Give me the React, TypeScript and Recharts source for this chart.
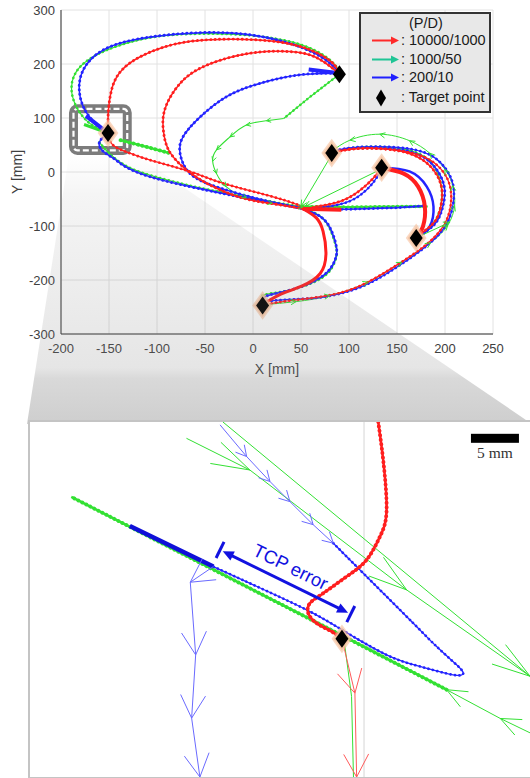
import React from 'react'
import { ComposedChart, Line, Scatter, XAxis, YAxis, CartesianGrid, ReferenceArea, ReferenceLine, Label } from 'recharts'

type Pt = { x: number; y: number }
const pts = (a: number[][]): Pt[] => a.map(([x, y]) => ({ x, y }))

// ---- top plot: TCP paths in mm ----
const xTicks = [-200, -150, -100, -50, 0, 50, 100, 150, 200, 250]
const yTicks = [-300, -200, -100, 0, 100, 200, 300]

const targets = pts([[-151, 72], [90, 181], [82, 35], [134, 8], [170, -122], [10, -247]])

// zoomed region marked on the top plot
const zoomBox = { x1: -187, x2: -131, y1: 40, y2: 117 }

// red : 10000/1000
const redTopArc = pts([[-151, 72], [-151, 100], [-150, 125], [-146, 160], [-136, 190], [-118, 213], [-95, 230], [-65, 242], [-20, 246], [30, 240], [65, 222], [84, 200], [90, 182]])
const redInnerArc = pts([[90, 182], [66, 212], [38, 223], [-3, 220], [-48, 198], [-76, 164], [-92, 115], [-93, 72], [-86, 35], [-65, -2], [-38, -30], [-7, -50], [25, -60], [52, -68]])
const redDiag = pts([[-151, 72], [-146, 50], [-130, 36], [-107, 22], [-66, 1], [-31, -21], [21, -46], [52, -64]])
const redDown = pts([[52, -68], [66, -85], [73, -110], [76, -150], [70, -188], [50, -212], [27, -228], [10, -246]])
const redLowArc = pts([[10, -246], [40, -238], [80, -228], [115, -208], [150, -172], [180, -135], [199, -98], [206, -60], [205, -25], [196, 5], [178, 28], [150, 40], [118, 44], [95, 40], [82, 35]])
const redMidArc = pts([[82, 35], [100, 42], [135, 43], [165, 33], [185, 10], [196, -25], [196, -60], [190, -90], [178, -110], [170, -122]])
const redT4T5 = pts([[134, 8], [157, -3], [172, -27], [179, -64], [177, -101], [170, -122]])
const redHubT4 = pts([[52, -68], [88, -56], [110, -36], [125, -12], [134, 8]])
const redHubRight = pts([[52, -68], [92, -70]])

// blue : 200/10
const blueTopArc = pts([[-151, 72], [-163, 88], [-176, 118], [-181, 160], [-173, 200], [-149, 232], [-107, 250], [-55, 258], [-3, 254], [42, 236], [73, 211], [90, 184]])
const blueT1Thick = pts([[-174, 104], [-151, 72]])
const blueInnerArc = pts([[90, 183], [49, 180], [7, 164], [-27, 140], [-55, 102], [-73, 65], [-76, 35], [-69, 4], [-48, -21], [-3, -46], [30, -60], [52, -68]])
const blueT2Thick = pts([[58, 190], [90, 183]])
const blueDiag = pts([[-151, 72], [-160, 55], [-156, 38], [-145, 25], [-133, 10], [-107, -9], [-66, -27], [-31, -40], [4, -52], [42, -64], [55, -70]])
const blueDown = pts([[55, -70], [72, -85], [82, -110], [87, -140], [86, -160], [80, -180], [66, -200], [40, -218], [15, -229], [10, -240]])
const blueLowArc = pts([[10, -240], [40, -236], [75, -231], [115, -211], [150, -176], [180, -138], [200, -101], [208, -64], [209, -30], [203, 0], [188, 28], [163, 43], [128, 47], [98, 44], [82, 37]])
const blueMidArc = pts([[82, 35], [100, 43], [135, 44], [168, 35], [188, 12], [199, -25], [198, -62], [190, -95], [172, -120]])
const blueT4T5 = pts([[134, 8], [163, 1], [181, -27], [188, -64], [184, -101], [172, -120]])
const blueHubT4 = pts([[55, -70], [90, -60], [110, -45], [125, -20], [134, 6]])
const blueHubRight = pts([[55, -70], [100, -69], [150, -66], [177, -63]])

// green : 1000/50
const greenTopArc = pts([[-151, 72], [-170, 90], [-184, 121], [-189, 158], [-180, 195], [-152, 226], [-107, 249], [-55, 256], [-3, 253], [42, 240], [70, 220], [84, 201], [90, 186]])
const greenT2Line = pts([[90, 181], [60, 140], [32, 99]])
const greenSCurve = pts([[32, 99], [14, 95], [-7, 87], [-24, 65], [-38, 41], [-42, 20], [-38, -3], [-28, -27], [-7, -48], [20, -58], [52, -65]])
const greenT1Thick = pts([[-176, 88], [-151, 72]])
const greenDash = pts([[-138, 59], [-112, 47], [-87, 35]])
const greenDiag = pts([[-160, 55], [-150, 35], [-133, 12], [-107, -6], [-66, -25], [-31, -38], [4, -50], [42, -62], [52, -66]])
const greenDown = pts([[52, -66], [70, -82], [80, -105], [86, -135], [87, -155], [82, -178], [68, -200], [40, -218], [15, -226], [8, -232]])
const greenLowArc = pts([[10, -246], [45, -240], [80, -229], [120, -204], [155, -167], [185, -131], [203, -98], [210, -62], [208, -25], [200, 5], [184, 35], [163, 58], [132, 70], [101, 59], [82, 38]])
const greenMidArc = pts([[82, 35], [105, 45], [140, 46], [170, 36], [188, 12], [196, -25], [196, -60], [188, -95], [172, -120]])
const greenHubRight = pts([[52, -64], [100, -65], [150, -64], [182, -64]])
const greenT3Hub = pts([[82, 32], [50, -64]])
const greenT4Hub = pts([[132, 4], [54, -64]])
const greenT5 = pts([[170, -122], [205, -93]])

// ---- bottom inset: mm relative to the target point ----
const insetX = [-32.5, 19.8]
const insetY = [-14.4, 22.6]
const insetGridX = 2.3 // the x = -150 grid line
const insetTarget = pts([[0, 0]])
const insetGreenB = pts([[-12.4, 22.6], [19.6, -3.9]])
const insetGreenA = pts([[-16.2, 20.9], [-9.6, 17.6], [6.74, 5.1], [19.6, -3.9]])
const insetGreenIn = pts([[19.6, -9.8], [16.5, -8.3], [10.9, -5.3]])
const insetGreenTrack = pts([[10.9, -5.3], [0, 0.35], [-28.2, 14.8]])
const insetGreenDown = pts([[0.2, 0], [1.0, -6], [1.2, -14.4]])
const insetBlueIn = pts([[-12.7, 22.3], [-9.93, 19.0], [-7.5, 16.4], [-5.42, 14.3], [-3.0, 11.9], [-0.9, 9.97]])
const insetBlueLoop = pts([[-0.9, 9.97], [2.22, 6.84], [7.43, 1.63], [9.86, -0.8], [11.94, -2.71], [12.64, -3.58], [11.6, -3.75], [8.13, -2.88], [4.65, -1.67], [0, 0.94], [-3.68, 3.02], [-9.24, 5.63], [-13.4, 7.53]])
const insetBlueThick = pts([[-13.4, 7.53], [-22.1, 11.77]])
const insetBlueDown = pts([[-13.4, 7.53], [-15.8, 5.9], [-15.24, -1.67], [-15.66, -8.26], [-14.8, -14.4]])
const insetRed = pts([[3.78, 22.6], [4.3, 18.6], [4.65, 13.4], [3.96, 10.66], [2.57, 8.23], [0.49, 6.49], [-1.94, 4.76], [-3.33, 3.72], [-3.51, 2.68], [-2.64, 1.63], [-1.07, 0.76], [0, 0]])
const insetRedDown = pts([[0, 0], [1.35, -5.66], [1.53, -14.4]])
const tcpError = pts([[-12.7, 9.27], [0.92, 2.58]])
const scaleBar = pts([[13.44, 20.9], [18.44, 20.9]])

const legendItems = [
  { label: ': 10000/1000', color: '#ff2a2a' },
  { label: ': 1000/50', color: '#1fc595' },
  { label: ': 200/10', color: '#2020ff' },
]

const FONT = '"Liberation Sans", Arial, sans-serif'
const RED = '#ff1f1f'
const GREEN = '#33e033'
const BLUE = '#2424ff'
const BLUE_LIGHT = '#6a6aff'
const RED_LIGHT = '#ff5a5a'

type S = { data: Pt[]; color: string; w: number; beads?: boolean; linear?: boolean; arrows?: number; spread?: number }

// V shaped arrow heads at every point after the first
function arrowDot(data: Pt[], color: string, len: number, spread: number, sx: number, sy: number) {
  return (p: any) => {
    const { cx, cy, index } = p
    const k = `ad${index}`
    if (!index || cx == null || cy == null) return <g key={k} />
    const a = data[index - 1], b = data[index]
    const dx = (b.x - a.x) * sx, dy = -(b.y - a.y) * sy
    const L = Math.hypot(dx, dy) || 1
    const rx = -dx / L, ry = -dy / L
    const wing = (t: number) => [cx + len * (rx * Math.cos(t) - ry * Math.sin(t)), cy + len * (rx * Math.sin(t) + ry * Math.cos(t))]
    const [x1, y1] = wing(spread)
    const [x2, y2] = wing(-spread)
    return <path key={k} d={`M${x1},${y1}L${cx},${cy}L${x2},${y2}`} fill="none" stroke={color} strokeWidth={1} />
  }
}

function renderSeries(list: S[], prefix: string, sx: number, sy: number) {
  const out: React.ReactNode[] = []
  list.forEach((s, i) => {
    const type = s.linear ? 'linear' : 'natural'
    out.push(
      <Line key={`${prefix}${i}`} data={s.data} dataKey="y" type={type} stroke={s.color} strokeWidth={s.w}
        dot={s.arrows ? arrowDot(s.data, s.color, s.arrows, s.spread ?? 0.45, sx, sy) : false}
        activeDot={false} isAnimationActive={false} />
    )
    if (s.beads) {
      out.push(
        <Line key={`${prefix}${i}b`} data={s.data} dataKey="y" type={type} stroke={s.color} strokeWidth={s.w + 1.4}
          strokeDasharray="0.1 4.4" strokeLinecap="round" dot={false} activeDot={false} isAnimationActive={false} />
      )
    }
  })
  return out
}

const topSeries: S[] = [
  { data: greenTopArc, color: GREEN, w: 1.2, beads: true },
  { data: greenT2Line, color: GREEN, w: 1.2, beads: true, linear: true },
  { data: greenSCurve, color: GREEN, w: 1.1, arrows: 5 },
  { data: greenDash, color: GREEN, w: 2.5, beads: true, linear: true },
  { data: greenT1Thick, color: GREEN, w: 3, linear: true },
  { data: greenDiag, color: GREEN, w: 1.2, beads: true },
  { data: greenDown, color: GREEN, w: 1.2, beads: true },
  { data: greenLowArc, color: GREEN, w: 1, arrows: 6 },
  { data: greenMidArc, color: GREEN, w: 1.2, beads: true },
  { data: greenHubRight, color: GREEN, w: 2, beads: true, linear: true },
  { data: blueTopArc, color: BLUE, w: 1.5, beads: true },
  { data: blueT1Thick, color: BLUE, w: 4, linear: true },
  { data: blueInnerArc, color: BLUE, w: 1.5, beads: true },
  { data: blueT2Thick, color: BLUE, w: 4, linear: true },
  { data: blueDiag, color: BLUE, w: 1.5, beads: true },
  { data: blueDown, color: BLUE, w: 1.5, beads: true },
  { data: blueLowArc, color: BLUE, w: 1.3, beads: true },
  { data: blueMidArc, color: BLUE, w: 1.5, beads: true },
  { data: blueT4T5, color: BLUE, w: 2.5 },
  { data: blueHubT4, color: BLUE, w: 1.3, beads: true },
  { data: blueHubRight, color: BLUE, w: 1.5, beads: true, linear: true },
  { data: redTopArc, color: RED, w: 1.5, beads: true },
  { data: redInnerArc, color: RED, w: 1.5, beads: true },
  { data: redDiag, color: RED, w: 1.3, beads: true },
  { data: redDown, color: RED, w: 3 },
  { data: redLowArc, color: RED, w: 1.2, beads: true },
  { data: redMidArc, color: RED, w: 1.5, beads: true },
  { data: redT4T5, color: RED, w: 4 },
  { data: redHubT4, color: RED, w: 1.5, beads: true },
  { data: redHubRight, color: RED, w: 4, linear: true },
  { data: greenT3Hub, color: GREEN, w: 1, linear: true, arrows: 7 },
  { data: greenT4Hub, color: GREEN, w: 1, linear: true, arrows: 7 },
  { data: greenT5, color: GREEN, w: 1, linear: true, arrows: 7 },
]

const insetSeries: S[] = [
  { data: insetGreenB, color: GREEN, w: 1, linear: true },
  { data: insetGreenA, color: GREEN, w: 1, linear: true, arrows: 40, spread: 0.3 },
  { data: insetGreenIn, color: GREEN, w: 1, linear: true, arrows: 22, spread: 0.4 },
  { data: insetGreenTrack, color: GREEN, w: 2.5, beads: true, linear: true },
  { data: insetGreenDown, color: GREEN, w: 1, linear: true },
  { data: insetBlueIn, color: BLUE_LIGHT, w: 1, linear: true, arrows: 12, spread: 0.5 },
  { data: insetBlueLoop, color: BLUE, w: 1.3, beads: true },
  { data: insetBlueThick, color: '#1010d8', w: 4.5, linear: true },
  { data: insetBlueDown, color: BLUE_LIGHT, w: 1, linear: true, arrows: 26, spread: 0.5 },
  { data: insetRedDown, color: RED_LIGHT, w: 1, linear: true, arrows: 26, spread: 0.5 },
  { data: insetRed, color: RED, w: 2.5, beads: true },
]

const Diamond = (p: any) => {
  const { cx, cy, index } = p
  const w = 6.5, h = 9
  const d = (k: number) => `${cx},${cy - h * k} ${cx + w * k},${cy} ${cx},${cy + h * k} ${cx - w * k},${cy}`
  return (
    <g>
      {index !== 1 && <polygon points={d(1.6)} fill="#f6b88f" opacity={0.55} strokeLinejoin="round" />}
      {index !== 1 && <polygon points={d(1.3)} fill="#f4c3a0" opacity={0.8} />}
      <polygon points={d(1)} fill="#000" />
    </g>
  )
}

const ZoomFrame = (p: any) => {
  const { x, y, width, height } = p
  return (
    <g>
      <rect x={x} y={y} width={width} height={height} rx={4} fill="none" stroke="#7c7c7c" strokeWidth={9} />
      <rect x={x} y={y} width={width} height={height} rx={4} fill="none" stroke="#fff" strokeWidth={2.2} strokeDasharray="6 3" />
    </g>
  )
}

const TcpArrow = (p: any) => {
  const { x1, y1, x2, y2 } = p
  const dx = x2 - x1, dy = y2 - y1
  const L = Math.hypot(dx, dy)
  const ux = dx / L, uy = dy / L
  const nx = -uy, ny = ux
  const c = '#1212e0'
  const bar = 9, hl = 11, hw = 5
  const t1 = [x1 + ux * 3, y1 + uy * 3], t2 = [x2 - ux * 3, y2 - uy * 3]
  const head = (t: number[], s: number) =>
    `${t[0]},${t[1]} ${t[0] + s * ux * hl + nx * hw},${t[1] + s * uy * hl + ny * hw} ${t[0] + s * ux * hl - nx * hw},${t[1] + s * uy * hl - ny * hw}`
  const mx = (x1 + x2) / 2 - ux * 2 - nx * 16, my = (y1 + y2) / 2 - uy * 2 - ny * 16
  const ang = (Math.atan2(dy, dx) * 180) / Math.PI
  return (
    <g>
      <line x1={x1 - nx * bar} y1={y1 - ny * bar} x2={x1 + nx * bar} y2={y1 + ny * bar} stroke={c} strokeWidth={3} />
      <line x1={x2 - nx * bar} y1={y2 - ny * bar} x2={x2 + nx * bar} y2={y2 + ny * bar} stroke={c} strokeWidth={3} />
      <line x1={t1[0] + ux * 6} y1={t1[1] + uy * 6} x2={t2[0] - ux * 6} y2={t2[1] - uy * 6} stroke={c} strokeWidth={3} />
      <polygon points={head(t1, 1)} fill={c} />
      <polygon points={head(t2, -1)} fill={c} />
      <text x={mx} y={my} fill={c} fontSize={18.5} fontFamily={FONT} textAnchor="middle" dominantBaseline="central"
        transform={`rotate(${ang} ${mx} ${my})`}>TCP error</text>
    </g>
  )
}

const ScaleBar = (p: any) => {
  const { x1, y1, x2 } = p
  return (
    <g>
      <rect x={x1} y={y1 - 4.5} width={x2 - x1} height={9} fill="#000" />
      <text x={(x1 + x2) / 2} y={y1 + 20} textAnchor="middle" fontSize={15.5} fill="#333"
        fontFamily='"Liberation Serif", "DejaVu Serif", serif'>5 mm</text>
    </g>
  )
}

function Legend() {
  return (
    <div style={{ position: 'absolute', left: 359, top: 12, width: 128, height: 97, background: '#e8e8e8', border: '2px solid #333', fontFamily: FONT, fontSize: 14.5, color: '#1a1a1a' }}>
      <div style={{ position: 'absolute', left: 48, top: 0, lineHeight: '19px' }}>(P/D)</div>
      {legendItems.map((it, i) => (
        <div key={it.label} style={{ position: 'absolute', left: 0, top: 17 + i * 18.5, height: 19, width: 128 }}>
          <svg width={40} height={19} style={{ position: 'absolute', left: 9, top: 0 }}>
            <line x1={2} y1={9.5} x2={22} y2={9.5} stroke={it.color} strokeWidth={2} />
            <polygon points="29,9.5 21,5.5 21,13.5" fill={it.color} />
          </svg>
          <div style={{ position: 'absolute', left: 40, top: 0, lineHeight: '19px' }}>{it.label}</div>
        </div>
      ))}
      <div style={{ position: 'absolute', left: 0, top: 74, height: 19, width: 128 }}>
        <svg width={20} height={20} style={{ position: 'absolute', left: 15, top: 0 }}>
          <polygon points="5,1.5 10,10 5,18.5 0,10" fill="#000" />
        </svg>
        <div style={{ position: 'absolute', left: 40, top: 0, lineHeight: '19px' }}>: Target point</div>
      </div>
    </div>
  )
}

export default function App() {
  const tickStyle = { fontSize: 13, fill: '#404040', fontFamily: FONT }
  return (
    <div style={{ position: 'absolute', left: 0, top: 0, width: 530, height: 778, overflow: 'hidden', background: '#fff' }}>
      <ComposedChart width={530} height={380} margin={{ top: 10, right: 37, bottom: 0, left: 0 }}>
        <CartesianGrid stroke="#e2e2e2" />
        <XAxis type="number" dataKey="x" domain={[-200, 250]} ticks={xTicks} allowDataOverflow height={46}
          tick={tickStyle} tickLine={false} tickMargin={4} axisLine={{ stroke: '#333' }}>
          <Label value="X [mm]" position="insideBottom" offset={6} style={{ fontSize: 14, fill: '#404040', fontFamily: FONT }} />
        </XAxis>
        <YAxis type="number" dataKey="y" domain={[-300, 300]} ticks={yTicks} allowDataOverflow width={61}
          tick={tickStyle} tickLine={false} tickMargin={0} axisLine={{ stroke: '#333' }}>
          <Label value="Y [mm]" angle={-90} position="insideLeft" offset={17} style={{ fontSize: 14, fill: '#404040', fontFamily: FONT, textAnchor: 'middle' }} />
        </YAxis>
        {renderSeries(topSeries, 't', 0.96, 0.54)}
        <ReferenceArea x1={zoomBox.x1} x2={zoomBox.x2} y1={zoomBox.y1} y2={zoomBox.y2} shape={ZoomFrame} />
        <Scatter data={targets} shape={Diamond} isAnimationActive={false} />
      </ComposedChart>
      <Legend />
      <svg width={530} height={430} style={{ position: 'absolute', left: 0, top: 0, pointerEvents: 'none' }}>
        <defs>
          <linearGradient id="shade" gradientUnits="userSpaceOnUse" x1={0} y1={155} x2={0} y2={421}>
            <stop offset="0" stopColor="#808080" stopOpacity={0} />
            <stop offset="0.15" stopColor="#808080" stopOpacity={0.08} />
            <stop offset="0.8" stopColor="#808080" stopOpacity={0.2} />
            <stop offset="0.84" stopColor="#808080" stopOpacity={0.3} />
            <stop offset="1" stopColor="#808080" stopOpacity={0.38} />
          </linearGradient>
        </defs>
        <polygon points="69,155 136,155 532,424 27,424" fill="url(#shade)" />
      </svg>
      <div style={{ position: 'absolute', left: 28, top: 420, width: 510, height: 355, borderLeft: '2px solid #c4c4c4', borderTop: '2px solid #c4c4c4', borderBottom: '2px solid #c4c4c4', background: '#fff' }}>
        <ComposedChart width={502} height={355} margin={{ top: 0, right: 0, bottom: 0, left: 0 }}>
          <XAxis type="number" dataKey="x" domain={insetX} allowDataOverflow hide />
          <YAxis type="number" dataKey="y" domain={insetY} allowDataOverflow hide />
          <ReferenceLine x={insetGridX} stroke="#dcdcdc" strokeWidth={1.2} />
          {renderSeries(insetSeries, 'i', 9.6, 9.6)}
          <Scatter data={insetTarget} shape={Diamond} isAnimationActive={false} />
          <ReferenceLine segment={[tcpError[0], tcpError[1]]} shape={TcpArrow} ifOverflow="visible" />
          <ReferenceLine segment={[scaleBar[0], scaleBar[1]]} shape={ScaleBar} ifOverflow="visible" />
        </ComposedChart>
      </div>
    </div>
  )
}
